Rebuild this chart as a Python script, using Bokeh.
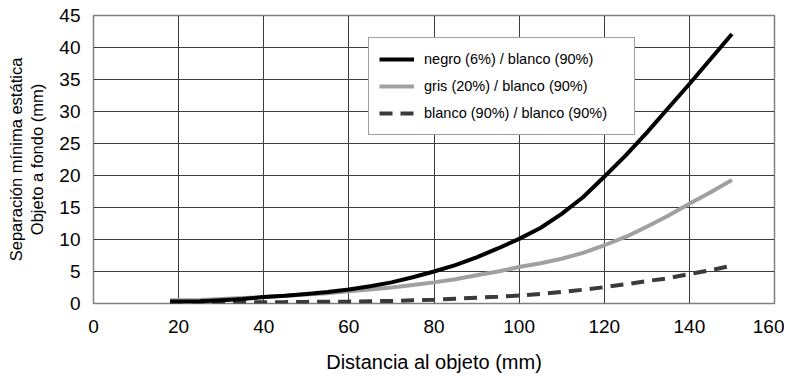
from bokeh.plotting import figure
from bokeh.models import Legend, LegendItem, FixedTicker, Range1d
from bokeh.embed import file_html
from bokeh.resources import INLINE

# ---- data ----
x_vals = [18, 20, 25, 30, 35, 40, 45, 50, 55, 60, 65, 70, 75, 80, 85, 90, 95,
          100, 105, 110, 115, 120, 125, 130, 135, 140, 145, 150]
negro = [0.3, 0.3, 0.35, 0.5, 0.7, 1.0, 1.2, 1.5, 1.8, 2.2, 2.7, 3.3, 4.1, 5.0, 6.0, 7.2, 8.6,
         10.1, 11.8, 14.0, 16.6, 19.8, 23.1, 26.7, 30.5, 34.3, 38.2, 42.1]
gris = [0.5, 0.5, 0.55, 0.7, 0.85, 1.0, 1.2, 1.4, 1.6, 1.9, 2.2, 2.5, 2.9, 3.3, 3.8, 4.4, 5.0,
        5.7, 6.3, 7.0, 7.9, 9.1, 10.4, 12.0, 13.7, 15.6, 17.4, 19.3]
blanco = [0.2, 0.2, 0.2, 0.2, 0.2, 0.2, 0.22, 0.25, 0.28, 0.3, 0.35, 0.4, 0.5, 0.6, 0.75, 0.9, 1.05,
          1.25, 1.5, 1.8, 2.15, 2.55, 3.0, 3.5, 3.95, 4.6, 5.2, 5.9]
labels = ["negro (6%) / blanco (90%)", "gris (20%) / blanco (90%)", "blanco (90%) / blanco (90%)"]
x_ticks = [0, 20, 40, 60, 80, 100, 120, 140, 160]
y_ticks = [0, 5, 10, 15, 20, 25, 30, 35, 40, 45]
x_title = "Distancia al objeto (mm)"
y_title = "Separación mínima estática\nObjeto a fondo (mm)"

FONT = "Liberation Sans"

p = figure(width=784, height=383, output_backend="svg", toolbar_location=None,
           x_range=Range1d(0, 160), y_range=Range1d(0, 45),
           min_border_left=93, min_border_right=10, min_border_top=15, min_border_bottom=80)

p.outline_line_color = "#7f7f7f"
p.outline_line_width = 1.5

for ax in (p.xaxis[0], p.yaxis[0]):
    ax.axis_line_color = None
    ax.major_tick_line_color = None
    ax.minor_tick_line_color = None
    ax.major_tick_out = 0
    ax.major_tick_in = 0
    ax.major_label_text_font = FONT
    ax.major_label_text_font_size = "19px"
    ax.major_label_text_color = "black"
    ax.axis_label_text_font = FONT
    ax.axis_label_text_font_style = "normal"
    ax.axis_label_text_color = "black"

p.xaxis.ticker = FixedTicker(ticks=x_ticks)
p.yaxis.ticker = FixedTicker(ticks=y_ticks)
p.xaxis.major_label_standoff = 16
p.yaxis.major_label_standoff = 13
p.xaxis.axis_label = x_title
p.xaxis.axis_label_text_font_size = "20px"
p.xaxis.axis_label_standoff = 15
p.yaxis.axis_label = y_title
p.yaxis.axis_label_text_font_size = "16.5px"
p.yaxis.axis_label_standoff = 10

p.xgrid.ticker = FixedTicker(ticks=x_ticks)
p.ygrid.ticker = FixedTicker(ticks=y_ticks)
p.grid.grid_line_color = "#3c3c3c"
p.grid.grid_line_width = 1

r_blanco = p.line(x_vals, blanco, line_color="#3a3a3a", line_width=4, line_dash="13 8")
r_gris = p.line(x_vals, gris, line_color="#a0a0a0", line_width=4, line_join="round")
r_negro = p.line(x_vals, negro, line_color="black", line_width=4, line_join="round")

legend = Legend(items=[LegendItem(label=labels[0], renderers=[r_negro]),
                       LegendItem(label=labels[1], renderers=[r_gris]),
                       LegendItem(label=labels[2], renderers=[r_blanco])],
                location=(275, 168))
legend.label_text_font = FONT
legend.label_text_font_size = "14.5px"
legend.label_text_color = "black"
legend.glyph_width = 35
legend.glyph_height = 20
legend.label_standoff = 10
legend.label_width = 200
legend.label_height = 22
legend.spacing = 5
legend.padding = 10
legend.margin = 0
legend.border_line_color = "#404040"
legend.border_line_width = 1
legend.background_fill_alpha = 1
p.add_layout(legend, "center")

open("out.html", "w").write(file_html(p, INLINE))
